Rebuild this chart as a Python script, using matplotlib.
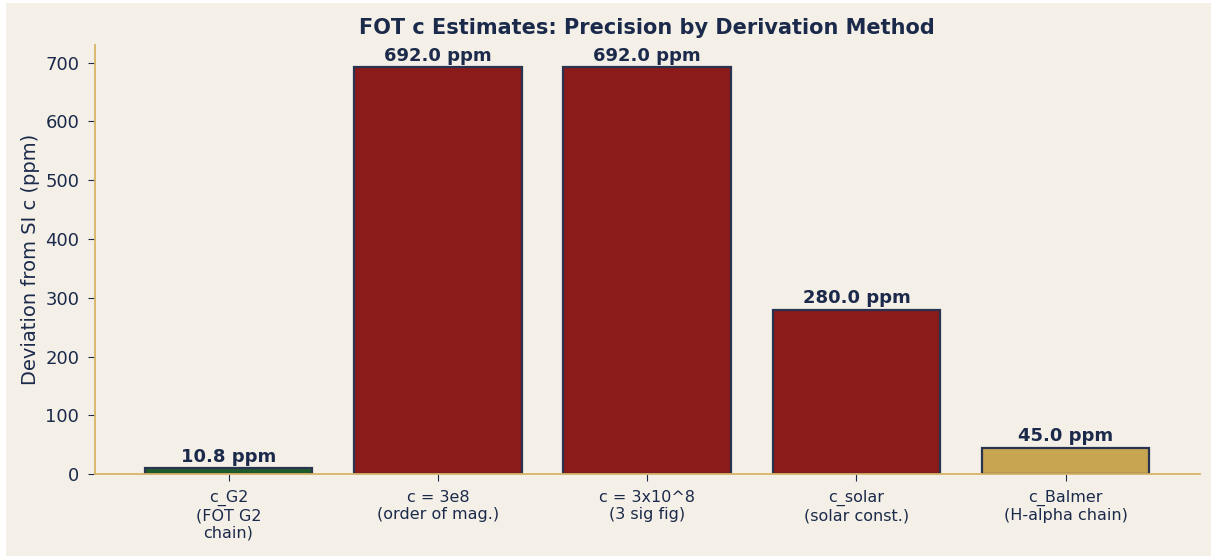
import numpy as np
import matplotlib.pyplot as plt
from matplotlib.patches import Rectangle

plt.rcParams['font.family'] = ['DejaVu Sans']

methods = ['c_G2\n(FOT G2\nchain)', 'c = 3e8\n(order of mag.)', 'c = 3x10^8\n(3 sig fig)',
           'c_solar\n(solar const.)', 'c_Balmer\n(H-alpha chain)']
deviation_ppm = [10.8, 692.0, 692.0, 280.0, 45.0]
bar_colors = ['#1f5c2c', '#8b1a1a', '#8b1a1a', '#8b1a1a', '#c8a651']

bg = '#f4f0e8'
navy = '#1b2a4a'
gold = '#d8b465'

fig = plt.figure(figsize=(12.13, 5.56), dpi=100, facecolor='white')
# beige panel with a thin white margin, as in the screenshot
fig.patches.append(Rectangle((6 / 1213, 0), 1205 / 1213, 1 - 3 / 556, transform=fig.transFigure,
                             facecolor=bg, edgecolor='none', zorder=-10))
ax = fig.add_axes([0.078, 0.147, 0.911, 0.772])
ax.set_facecolor(bg)

x = np.arange(len(methods))
bars = ax.bar(x, deviation_ppm, width=0.8, color=bar_colors, edgecolor='#2a3350', linewidth=1.6)
for b, v in zip(bars, deviation_ppm):
    ax.text(b.get_x() + b.get_width() / 2, v + 4, f'{v:.1f} ppm', ha='center', va='bottom',
            fontsize=13, fontweight='bold', color=navy)

ax.set_xticks(x)
ax.set_xticklabels(methods, fontsize=11.5, color=navy)
ax.tick_params(axis='y', labelsize=13, colors=navy, length=5, pad=6)
ax.tick_params(axis='x', colors=navy, length=5, pad=6)
ax.set_ylim(0, 730)
ax.set_ylabel('Deviation from SI c (ppm)', fontsize=14, color=navy, labelpad=4)
ax.set_title('FOT c Estimates: Precision by Derivation Method', fontsize=15,
             fontweight='bold', color=navy, pad=8)

for s in ['top', 'right']:
    ax.spines[s].set_visible(False)
for s in ['left', 'bottom']:
    ax.spines[s].set_color(gold)
    ax.spines[s].set_linewidth(1.3)

fig.savefig('out.png', dpi=100, facecolor='white')
